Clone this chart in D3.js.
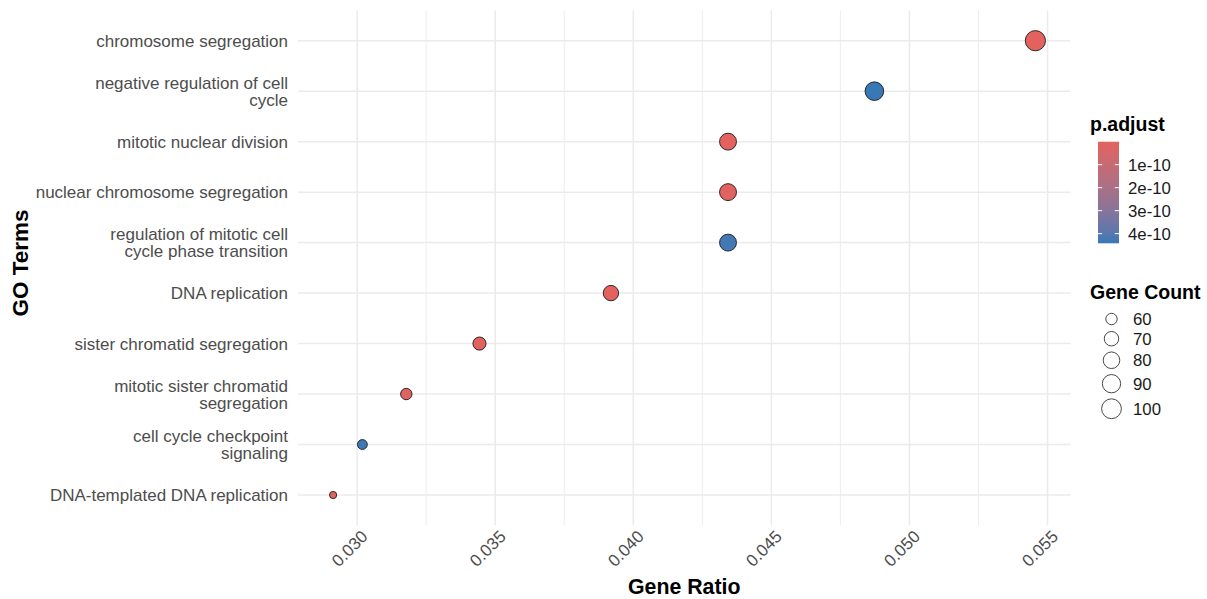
<!DOCTYPE html>
<html>
<head>
<meta charset="utf-8">
<script src="https://cdn.jsdelivr.net/npm/d3@7"></script>
<style>
  html, body { margin: 0; padding: 0; background: #ffffff; }
  svg { display: block; font-family: "Liberation Sans", Arial, sans-serif; }
</style>
</head>
<body>
<svg id="chart" width="1207" height="599"></svg>
<script>
// GO enrichment terms, top to bottom
const terms = [
  "chromosome segregation",
  "negative regulation of cell\ncycle",
  "mitotic nuclear division",
  "nuclear chromosome segregation",
  "regulation of mitotic cell\ncycle phase transition",
  "DNA replication",
  "sister chromatid segregation",
  "mitotic sister chromatid\nsegregation",
  "cell cycle checkpoint\nsignaling",
  "DNA-templated DNA replication"
];
const geneRatio = [0.05456, 0.04873, 0.04343, 0.04343, 0.04343, 0.03919, 0.03443, 0.03178, 0.03019, 0.02913];
const geneCount = [103, 92, 82, 82, 82, 74, 65, 60, 57, 55];
const pAdjust   = [2.0e-14, 4.42e-10, 1.3e-12, 1.9e-12, 4.30e-10, 4.0e-13, 4.8e-12, 7.5e-12, 4.38e-10, 9.2e-12];

const xTicks = [0.030, 0.035, 0.040, 0.045, 0.050, 0.055];
const pTicks = [1e-10, 2e-10, 3e-10, 4e-10];
const pTickLabels = ["1e-10", "2e-10", "3e-10", "4e-10"];
const countTicks = [60, 70, 80, 90, 100];

const lowColor = "#E3625F";
const highColor = "#3878B6";

const svg = d3.select("#chart");
const W = 1207, H = 599;
svg.append("rect").attr("width", W).attr("height", H).attr("fill", "#ffffff");

// panel geometry
const panel = { left: 298, right: 1070.5, top: 10.4, bottom: 525.3 };

// x scale with 5% expansion around the data range
const [xMin, xMax] = d3.extent(geneRatio);
const xPad = (xMax - xMin) * 0.05;
const x = d3.scaleLinear().domain([xMin - xPad, xMax + xPad]).range([panel.left, panel.right]);

const y = d3.scalePoint().domain(terms).range([panel.top, panel.bottom]).padding(0.6);

const color = d3.scaleLinear()
  .domain(d3.extent(pAdjust))
  .range([lowColor, highColor])
  .interpolate(d3.interpolateLab);

const [cMin, cMax] = d3.extent(geneCount);
const countT = d3.scaleLinear().domain([cMin, cMax]).range([0, 1]);
const radiusT = d3.scaleSqrt().domain([0, 1]).range([3.6, 10.1]);
const radius = c => radiusT(Math.max(0, countT(c)));

const grid = svg.append("g");
// minor vertical grid lines halfway between major ticks
const step = xTicks[1] - xTicks[0];
const minor = d3.range(xTicks[0] - step / 2, xTicks[xTicks.length - 1] + step, step)
  .filter(v => v >= x.domain()[0] && v <= x.domain()[1]);
grid.selectAll("line.minor").data(minor).enter().append("line")
  .attr("x1", d => x(d)).attr("x2", d => x(d))
  .attr("y1", panel.top).attr("y2", panel.bottom)
  .attr("stroke", "#EBEBEB").attr("stroke-width", 0.9);
grid.selectAll("line.majorx").data(xTicks).enter().append("line")
  .attr("x1", d => x(d)).attr("x2", d => x(d))
  .attr("y1", panel.top).attr("y2", panel.bottom)
  .attr("stroke", "#EBEBEB").attr("stroke-width", 1.5);
grid.selectAll("line.majory").data(terms).enter().append("line")
  .attr("x1", panel.left).attr("x2", panel.right)
  .attr("y1", d => y(d)).attr("y2", d => y(d))
  .attr("stroke", "#EBEBEB").attr("stroke-width", 1.5);

// points
const rows = terms.map((t, i) => ({ term: t, ratio: geneRatio[i], count: geneCount[i], p: pAdjust[i] }));
svg.append("g").selectAll("circle").data(rows).enter().append("circle")
  .attr("cx", d => x(d.ratio))
  .attr("cy", d => y(d.term))
  .attr("r", d => radius(d.count))
  .attr("fill", d => color(d.p))
  .attr("stroke", "#1a1a1a")
  .attr("stroke-width", 0.9);

// y axis labels (wrapped terms)
const yLab = svg.append("g");
terms.forEach(t => {
  const lines = t.split("\n");
  const lh = 17;
  const y0 = y(t) - (lines.length - 1) * lh / 2;
  const txt = yLab.append("text")
    .attr("text-anchor", "end")
    .attr("font-size", 17)
    .attr("fill", "#4D4D4D");
  lines.forEach((ln, k) => {
    txt.append("tspan").attr("x", 288).attr("y", y0 + k * lh).attr("dy", "0.36em").text(ln);
  });
});

// x axis tick labels, rotated
svg.append("g").selectAll("text").data(xTicks).enter().append("text")
  .attr("transform", d => `translate(${x(d) + 3},${529}) rotate(-45)`)
  .attr("text-anchor", "end")
  .attr("dy", "0.72em")
  .attr("font-size", 17)
  .attr("fill", "#4D4D4D")
  .text(d => d3.format(".3f")(d));

// axis titles
svg.append("text")
  .attr("x", (panel.left + panel.right) / 2).attr("y", 594)
  .attr("text-anchor", "middle")
  .attr("font-size", 21.3).attr("font-weight", "bold").attr("fill", "#000")
  .text("Gene Ratio");
svg.append("text")
  .attr("transform", `translate(28,263) rotate(-90)`)
  .attr("text-anchor", "middle")
  .attr("font-size", 22.5).attr("font-weight", "bold").attr("fill", "#000")
  .text("GO Terms");

// colour bar legend
const bar = { x: 1098, y: 141.7, w: 21, h: 101.6 };
const legend = svg.append("g");
legend.append("text").attr("x", 1090).attr("y", 131)
  .attr("font-size", 19.5).attr("font-weight", "bold").attr("fill", "#000")
  .text("p.adjust");
const defs = svg.append("defs");
const grad = defs.append("linearGradient").attr("id", "pgrad")
  .attr("x1", 0).attr("x2", 0).attr("y1", 0).attr("y2", 1);
const [pLo, pHi] = color.domain();
d3.range(0, 1.0001, 0.05).forEach(s => {
  grad.append("stop").attr("offset", s).attr("stop-color", color(pLo + s * (pHi - pLo)));
});
legend.append("rect").attr("x", bar.x).attr("y", bar.y)
  .attr("width", bar.w).attr("height", bar.h).attr("fill", "url(#pgrad)");
const pBar = d3.scaleLinear().domain([pLo, pHi]).range([bar.y, bar.y + bar.h]);
pTicks.forEach((v, i) => {
  const yy = pBar(v);
  legend.append("line").attr("x1", bar.x).attr("x2", bar.x + 4.2)
    .attr("y1", yy).attr("y2", yy).attr("stroke", "#fff").attr("stroke-width", 1);
  legend.append("line").attr("x1", bar.x + bar.w - 4.2).attr("x2", bar.x + bar.w)
    .attr("y1", yy).attr("y2", yy).attr("stroke", "#fff").attr("stroke-width", 1);
  legend.append("text").attr("x", 1128).attr("y", yy).attr("dy", "0.36em")
    .attr("font-size", 16.8).attr("fill", "#1a1a1a").text(pTickLabels[i]);
});

// size legend
legend.append("text").attr("x", 1090).attr("y", 299)
  .attr("font-size", 19.5).attr("font-weight", "bold").attr("fill", "#000")
  .text("Gene Count");
let cy = 309.5;
countTicks.forEach(c => {
  const r = radius(c);
  const keyH = Math.max(19, 2 * r + 6);
  const yy = cy + keyH / 2;
  legend.append("circle").attr("cx", 1111.5).attr("cy", yy).attr("r", r)
    .attr("fill", "none").attr("stroke", "#333").attr("stroke-width", 0.9);
  legend.append("text").attr("x", 1133).attr("y", yy).attr("dy", "0.36em")
    .attr("font-size", 16.8).attr("fill", "#1a1a1a").text(c);
  cy += keyH;
});
</script>
</body>
</html>
